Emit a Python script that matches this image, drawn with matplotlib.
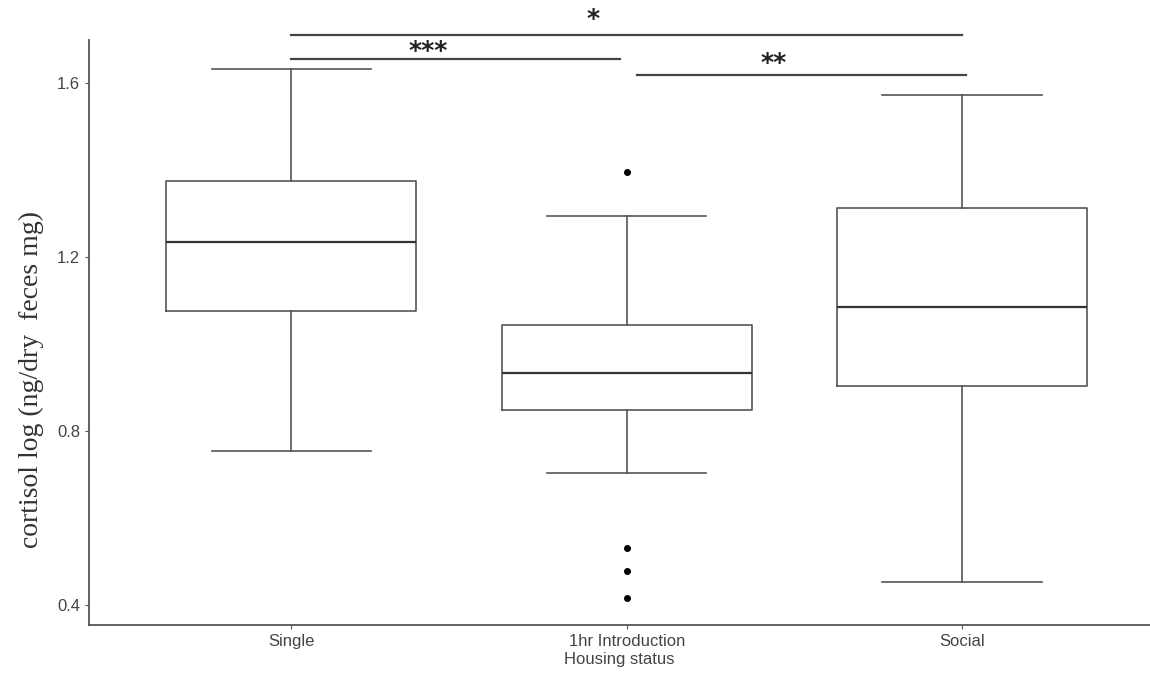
import matplotlib
matplotlib.use("Agg")
import matplotlib.pyplot as plt

# housing groups and box statistics
groups = ["Single", "1hr Introduction", "Social"]
whisker_low = [0.754, 0.703, 0.453]
q1 = [1.076, 0.848, 0.903]
median = [1.234, 0.933, 1.085]
q3 = [1.375, 1.044, 1.313]
whisker_high = [1.632, 1.294, 1.572]
outliers = [[], [1.395, 0.531, 0.478, 0.416], []]

# significance brackets: (group a, group b, height, label)
sig_a = [1, 1, 2.03]
sig_b = [3, 1.98, 3.01]
sig_y = [1.711, 1.656, 1.619]
sig_lab = ["*", "***", "**"]
sig_lab_x = [1.901, 1.409, 2.439]
sig_lab_y = [1.731, 1.658, 1.629]

fig = plt.figure(figsize=(11.5, 6.8), dpi=100)
ax = fig.add_axes([89 / 1150, 55 / 680, 1061 / 1150, 585 / 680])

stats = []
for i in range(len(groups)):
    stats.append(dict(med=median[i], q1=q1[i], q3=q3[i],
                      whislo=whisker_low[i], whishi=whisker_high[i],
                      fliers=outliers[i], label=groups[i]))

lc = "#555555"
ax.bxp(stats, positions=[1, 2, 3], widths=0.745, showfliers=True,
       boxprops=dict(color=lc, linewidth=1.2),
       medianprops=dict(color="#333333", linewidth=1.6),
       whiskerprops=dict(color=lc, linewidth=1.2),
       capprops=dict(color=lc, linewidth=1.2),
       capwidths=0.475,
       flierprops=dict(marker="o", markersize=4, markerfacecolor="black",
                       markeredgecolor="black"))

for a, b, y in zip(sig_a, sig_b, sig_y):
    ax.plot([a, b], [y, y], color="#444444", linewidth=1.6, clip_on=False)
for lab, lx, ly in zip(sig_lab, sig_lab_x, sig_lab_y):
    ax.text(lx, ly, lab, ha="center", va="baseline", fontsize=18,
            fontweight="bold", fontfamily="DejaVu Sans",
            color="#222222", clip_on=False)

ax.set_xlim(0.397, 3.56)
ax.set_ylim(0.354, 1.699)
ax.set_yticks([0.4, 0.8, 1.2, 1.6])
ax.set_yticklabels(["0.4", "0.8", "1.2", "1.6"])
ax.spines["top"].set_visible(False)
ax.spines["right"].set_visible(False)
for s in ["left", "bottom"]:
    ax.spines[s].set_color("#555555")
    ax.spines[s].set_linewidth(1.3)
ax.tick_params(axis="both", length=3, color="#555555", labelsize=12,
               labelcolor="#444444")
for t in ax.get_xticklabels() + ax.get_yticklabels():
    t.set_fontfamily("Liberation Sans")

ax.set_xlabel("Housing status", fontsize=12, color="#444444",
              fontfamily="Liberation Sans", labelpad=2)
ax.set_ylabel("cortisol log (ng/dry  feces mg)", fontsize=20, color="#333333",
              fontfamily="Liberation Serif", labelpad=9)
ax.yaxis.label.set_y(0.419)

fig.savefig("out.png", dpi=100, facecolor="white")
